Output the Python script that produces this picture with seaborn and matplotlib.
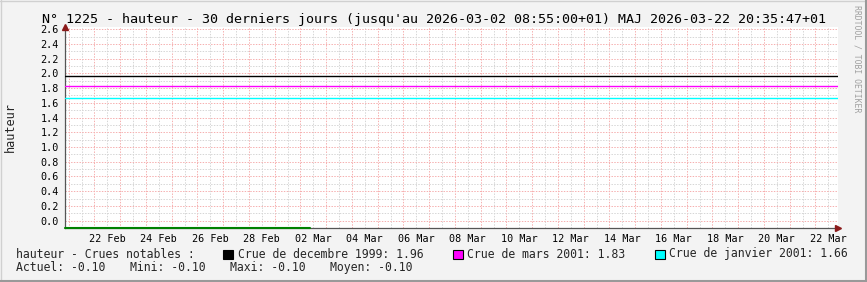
import matplotlib
matplotlib.use("Agg")
import matplotlib.pyplot as plt
import matplotlib.dates as mdates
import matplotlib.ticker as mticker
from matplotlib.patches import Rectangle
from matplotlib.lines import Line2D
import numpy as np
import pandas as pd
import seaborn as sns

# ---------------- data ----------------
title = "N° 1225 - hauteur - 30 derniers jours (jusqu'au 2026-03-02 08:55:00+01) MAJ 2026-03-22 20:35:47+01"
ylabel = "hauteur"
series_times = ["2026-02-20 20:35:47", "2026-03-02 08:55:00"]
series_values = [-0.10, -0.10]
x_start = "2026-02-20 20:35:47"
x_end = "2026-03-22 20:35:47"
flood_labels = ["Crue de decembre 1999", "Crue de mars 2001", "Crue de janvier 2001"]
flood_values = [1.96, 1.83, 1.66]
flood_colors = ["#000000", "#FF00FF", "#00FFFF"]
legend_title = "hauteur - Crues notables :"
stat_labels = ["Actuel", "Mini", "Maxi", "Moyen"]
watermark = "RRDTOOL / TOBI OETIKER"

# ---------------- style ----------------
sns.set_style("white")
plt.rcParams["font.family"] = ["DejaVu Sans Mono", "DejaVu Sans"]

W, H = 867, 282
fig = plt.figure(figsize=(W / 100, H / 100), dpi=100, facecolor="#F3F3F3")

def fx(px):
    return px / W

def fy(py):
    return 1 - py / H

left_px, right_px, top_px, bot_px = 65.0, 837.5, 27.0, 228.0
ax = fig.add_axes([fx(left_px), fy(bot_px), (right_px - left_px) / W, (bot_px - top_px) / H])
ax.set_facecolor("white")

df = pd.DataFrame({"t": pd.to_datetime(series_times), "v": series_values})
sns.lineplot(data=df, x="t", y="v", ax=ax, color="#008000", linewidth=1.5,
             clip_on=False, zorder=6)

for val, col in zip(flood_values, flood_colors):
    ax.axhline(val, color=col, linewidth=1.0, zorder=4)

ax.set_xlim(pd.Timestamp(x_start), pd.Timestamp(x_end))
ax.set_ylim(-0.1, 2.63)

# grid
ax.xaxis.set_major_locator(mdates.DayLocator(interval=1))
ax.xaxis.set_minor_locator(mdates.HourLocator(byhour=12))
ax.xaxis.set_major_formatter(mticker.NullFormatter())

def minor_fmt(x, pos):
    d = mdates.num2date(x)
    return d.strftime("%d %b") if d.day % 2 == 0 else ""

ax.xaxis.set_minor_formatter(mticker.FuncFormatter(minor_fmt))
ax.yaxis.set_major_locator(mticker.MultipleLocator(0.2))
ax.yaxis.set_minor_locator(mticker.MultipleLocator(0.1))
ax.yaxis.set_major_formatter(mticker.FormatStrFormatter("%.1f"))

ax.grid(True, which="major", color="#F6B0B0", linestyle=(0, (1.4, 1.4)), linewidth=0.72, zorder=1)
ax.grid(True, which="minor", color="#D6D6D6", linestyle=(0, (1.4, 1.4)), linewidth=0.72, zorder=1)
ax.set_axisbelow(True)

ax.tick_params(axis="both", which="both", colors="#555555", labelcolor="#000000",
               direction="inout", width=0.8, labelsize=7.3)
ax.tick_params(axis="x", which="major", length=4)
ax.tick_params(axis="x", which="minor", length=0, pad=4.5)
ax.tick_params(axis="y", which="major", length=4, pad=2.5)
ax.tick_params(axis="y", which="minor", length=2)

for s in ["top", "right"]:
    ax.spines[s].set_visible(False)
for s in ["left", "bottom"]:
    ax.spines[s].set_color("#555555")
    ax.spines[s].set_linewidth(0.9)
ax.set_xlabel("")
ax.set_ylabel("")

# arrows
ax.plot([0], [1.0], marker="^", color="#8B1A1A", markersize=5, transform=ax.transAxes,
        clip_on=False, zorder=7)
ax.plot([1.0], [0], marker=">", color="#8B1A1A", markersize=5, transform=ax.transAxes,
        clip_on=False, zorder=7)

# texts
fig.text(0.5, fy(19), title, ha="center", va="center", fontsize=9.6, color="#000000")
fig.text(fx(10), fy(127), ylabel, rotation=90, ha="center", va="center", fontsize=8.6)
fig.text(fx(857), fy(5), watermark, rotation=270, ha="center", va="top", fontsize=5.9,
         color="#A0A0A0")

leg_fs = 8.3
row1, row2 = 254, 267.5
fig.text(fx(16), fy(row1), legend_title, ha="left", va="center", fontsize=leg_fs)
sq_x = [223, 453, 655]
txt_x = [238, 467, 669]
for lab, val, col, sx, tx in zip(flood_labels, flood_values, flood_colors, sq_x, txt_x):
    fig.add_artist(Rectangle((fx(sx), fy(row1 + 4.5)), 10 / W, 9 / H, transform=fig.transFigure,
                             facecolor=col, edgecolor="#000000", linewidth=0.8))
    fig.text(fx(tx), fy(row1), f"{lab}: {val:.2f}", ha="left", va="center", fontsize=leg_fs)

vals = np.array(series_values)
stats = [vals[-1], vals.min(), vals.max(), vals.mean()]
stat_x = [16, 130, 230, 330]
for lab, v, sx in zip(stat_labels, stats, stat_x):
    fig.text(fx(sx), fy(row2), f"{lab}: {v:.2f}", ha="left", va="center", fontsize=leg_fs)

# frame
fig.add_artist(Line2D([0, 1], [fy(0.5), fy(0.5)], transform=fig.transFigure, color="#D0D0D0", lw=1))
fig.add_artist(Line2D([fx(0.5), fx(0.5)], [0, 1], transform=fig.transFigure, color="#D0D0D0", lw=1))
fig.add_artist(Line2D([0, 1], [fy(281), fy(281)], transform=fig.transFigure, color="#999999", lw=1.5))
fig.add_artist(Line2D([fx(866), fx(866)], [0, 1], transform=fig.transFigure, color="#999999", lw=1.5))

fig.savefig("out.png", dpi=100, facecolor=fig.get_facecolor())
